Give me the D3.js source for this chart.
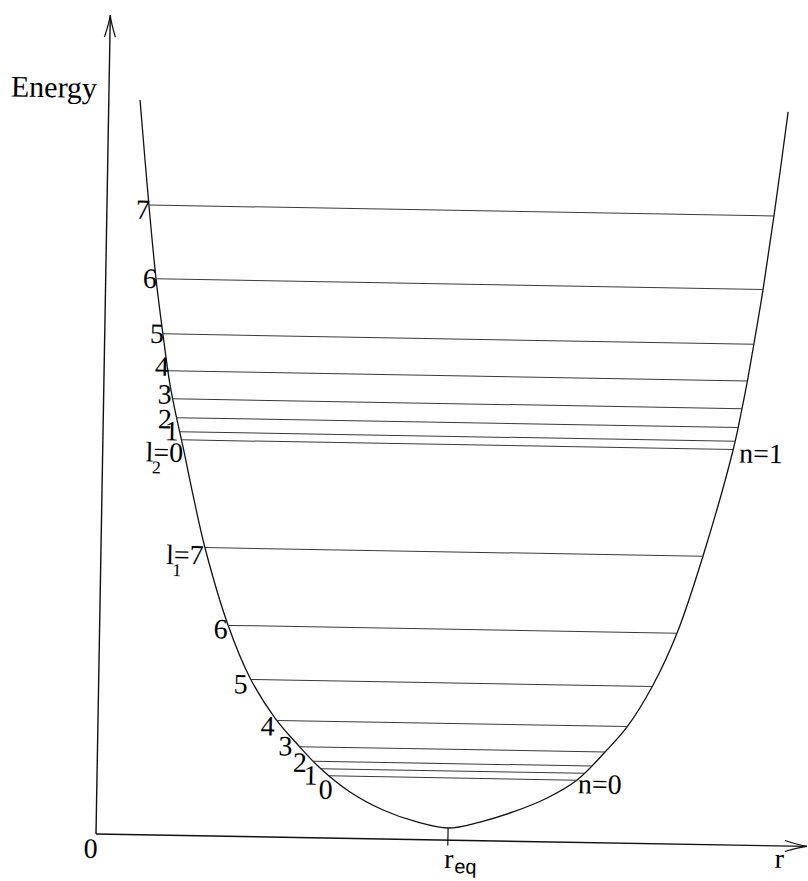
<!DOCTYPE html>
<html>
<head>
<meta charset="utf-8">
<script src="https://cdn.jsdelivr.net/npm/d3@7"></script>
<style>
  html, body { margin: 0; padding: 0; background: #fff; }
  svg { display: block; }
  .lab { font-family: "Liberation Serif", "Times New Roman", serif; font-size: 28px; fill: #000; }
  .ax  { font-family: "Liberation Serif", "Times New Roman", serif; font-size: 30px; fill: #000; }
</style>
</head>
<body>
<svg id="chart" width="808" height="881"></svg>
<script>
// Potential energy curve V(r), from the upper end of the inner wall,
// down through the minimum at r_eq and up the outer wall.
const wellR = [0.439, 0.591, 0.708, 0.820, 0.931, 1.038, 1.129, 1.281, 1.463, 1.805,
               2.128, 2.489, 2.819, 3.134, 3.562, 4.031, 4.512, 4.949,
               5.398, 5.859, 6.335, 6.752, 7.139, 7.442, 7.797, 8.122,
               8.468, 8.865, 8.982, 9.052, 9.134, 9.248, 9.384, 9.556];
const wellE = [8.971, 7.679, 6.789, 6.107, 5.498, 5.072, 4.744, 4.160, 3.515, 2.580,
               1.938, 1.454, 1.130, 0.854, 0.567, 0.354, 0.215, 0.148,
               0.228, 0.358, 0.536, 0.762, 1.110, 1.420, 1.938, 2.578,
               3.524, 4.824, 5.339, 5.682, 6.135, 6.797, 7.702, 8.963];

// Rotational levels l = 0..7 in the vibrational states n = 0 and n = 1
const levelsN0 = [0.760, 0.845, 0.935, 1.110, 1.425, 1.920, 2.575, 3.520];
const levelsN1 = [4.830, 4.930, 5.100, 5.330, 5.670, 6.120, 6.790, 7.690];
const rotLabels = ["0", "1", "2", "3", "4", "5", "6", "7"];
const vibLabels = ["n=0", "n=1"];
const lSubs = ["1", "2"];

// Axis markers
const rEq = 4.95;
const eMin = 0.148;
const axisMax = 10;
const axisTexts = ["Energy", "0", "r"];

// Label placement next to the inner wall (dx, dy from the level's left end)
const offN0 = [[3, 23], [-4, 16], [-7, 11], [-8, 9], [-3, 15], [-4, 14], [-1.5, 13], [-2, 17]];
const offN1 = [[1, 22], [-2, 9], [-5.5, 11], [-2, 5], [0, 5], [0, 9], [0, 9], [0, 14]];

const svg = d3.select("#chart");
svg.append("rect").attr("width", 808).attr("height", 881).attr("fill", "#fff");

const x = d3.scaleLinear().domain([0, axisMax]).range([0, 711]);
const y = d3.scaleLinear().domain([0, axisMax]).range([0, -819]);

const g = svg.append("g").attr("transform", "translate(96,834) rotate(1)");

// Axes with open arrow heads
g.append("line")
  .attr("x1", x(0)).attr("y1", y(0)).attr("x2", x(0)).attr("y2", y(axisMax))
  .attr("stroke", "#111").attr("stroke-width", 1.4);
g.append("line")
  .attr("x1", x(0)).attr("y1", y(0)).attr("x2", x(axisMax)).attr("y2", y(0))
  .attr("stroke", "#111").attr("stroke-width", 1.4);

const yt = [x(0), y(axisMax)];
g.append("path")
  .attr("d", `M${yt[0] - 5.5},${yt[1] + 22} Q${yt[0] - 1},${yt[1] + 8} ${yt[0]},${yt[1]} Q${yt[0] + 1},${yt[1] + 8} ${yt[0] + 5.5},${yt[1] + 22}`)
  .attr("fill", "none").attr("stroke", "#111").attr("stroke-width", 1.2);
const xt = [x(axisMax), y(0)];
g.append("path")
  .attr("d", `M${xt[0] - 22},${xt[1] - 5.5} Q${xt[0] - 8},${xt[1] - 1} ${xt[0]},${xt[1]} Q${xt[0] - 8},${xt[1] + 1} ${xt[0] - 22},${xt[1] + 5.5}`)
  .attr("fill", "none").attr("stroke", "#111").attr("stroke-width", 1.2);

// r_eq tick, from the bottom of the well through the axis
g.append("line")
  .attr("x1", x(rEq)).attr("x2", x(rEq))
  .attr("y1", y(eMin)).attr("y2", y(-0.065))
  .attr("stroke", "#111").attr("stroke-width", 1.2);

// Potential curve
const wellPts = wellR.map((r, i) => [r, wellE[i]]);
const curve = g.append("path")
  .datum(wellPts)
  .attr("d", d3.line().x(d => x(d[0])).y(d => y(d[1])).curve(d3.curveCatmullRom.alpha(0.5)))
  .attr("fill", "none").attr("stroke", "#111").attr("stroke-width", 1.3);

// Sample the drawn curve so each level ends exactly on the walls
const node = curve.node();
const total = node.getTotalLength();
const samples = [];
for (let s = 0; s <= total; s += 0.25) samples.push(node.getPointAtLength(s));
samples.push(node.getPointAtLength(total));

function crossings(E) {
  const Y = y(E);
  const hits = [];
  for (let i = 0; i < samples.length - 1; i++) {
    const a = samples[i], b = samples[i + 1];
    if ((a.y - Y) * (b.y - Y) <= 0 && a.y !== b.y) {
      const t = (Y - a.y) / (b.y - a.y);
      hits.push({ x: a.x + t * (b.x - a.x), y: Y });
    }
  }
  return [hits[0], hits[hits.length - 1]];
}

function drawLevels(levels, offs, subIndex, sub, vibLabel, vibOff) {
  const ends = levels.map(crossings);
  g.selectAll(null).data(ends).enter().append("line")
    .attr("x1", d => d[0].x).attr("y1", d => d[0].y)
    .attr("x2", d => d[1].x).attr("y2", d => d[1].y)
    .attr("stroke", "#3a3a3a").attr("stroke-width", 1);

  ends.forEach((d, i) => {
    const p = d[0], o = offs[i];
    const endX = p.x + o[0] + 1, base = p.y + o[1];
    if (i !== subIndex) {
      g.append("text").attr("class", "lab")
        .attr("x", endX).attr("y", base)
        .attr("text-anchor", "end")
        .text(rotLabels[i]);
    } else {
      // "l" with its subscript tucked under the equals sign, then "=value"
      const sx = endX - 37.6;
      const t = g.append("text").attr("class", "lab").attr("y", base);
      t.append("tspan").attr("x", sx).text("l");
      t.append("tspan").attr("x", sx + 6.5).attr("dy", 12)
        .style("font-size", "18px").text(sub);
      t.append("tspan").attr("x", sx + 7.8).attr("dy", -12)
        .text("=" + rotLabels[i]);
    }
  });

  const r0 = ends[0][1];
  g.append("text").attr("class", "lab")
    .attr("x", r0.x + vibOff[0]).attr("y", r0.y + vibOff[1])
    .text(vibLabel);
}

drawLevels(levelsN0, offN0, 7, lSubs[0], vibLabels[0], [1, 13]);
drawLevels(levelsN1, offN1, 0, lSubs[1], vibLabels[1], [6, 13]);

// Axis texts
g.append("text").attr("class", "ax")
  .attr("x", x(0) - 12).attr("y", y(0) - 736)
  .attr("text-anchor", "end").text(axisTexts[0]);
g.append("text").attr("class", "lab")
  .attr("x", x(0) - 5).attr("y", y(0) + 24)
  .attr("text-anchor", "middle").text(axisTexts[1]);
const req = g.append("text").attr("class", "lab")
  .attr("x", x(rEq) - 3.5).attr("y", y(0) + 28);
req.append("tspan").text("r");
req.append("tspan")
  .attr("dy", 5).attr("dx", 1)
  .style("font-family", "'Liberation Sans', Arial, sans-serif")
  .style("font-size", "20px")
  .text("eq");
g.append("text").attr("class", "lab")
  .attr("x", x(axisMax) - 32).attr("y", y(0) + 22)
  .text(axisTexts[2]);
</script>
</body>
</html>
